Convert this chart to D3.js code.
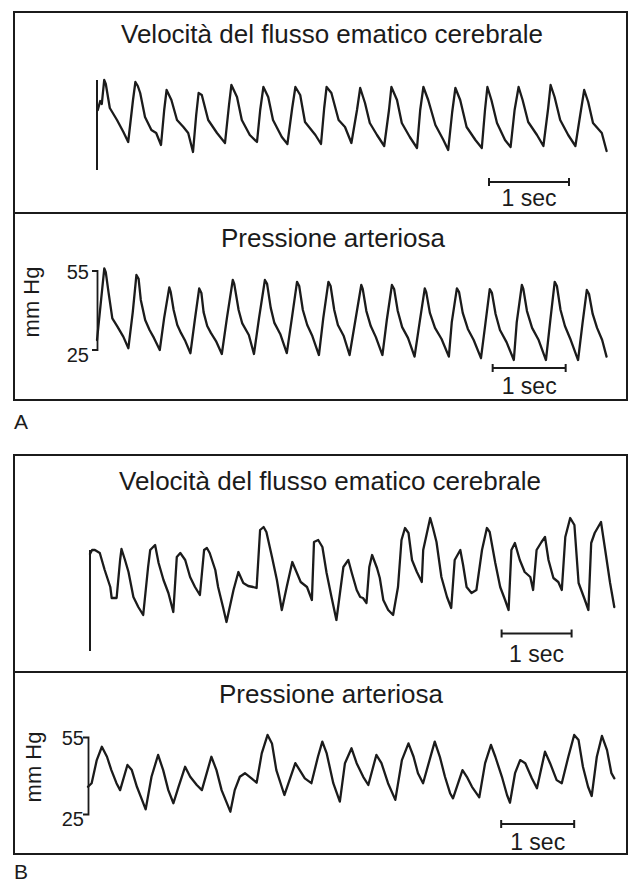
<!DOCTYPE html>
<html><head><meta charset="utf-8">
<script src="https://cdn.jsdelivr.net/npm/d3@7"></script>
<style>
body{margin:0;background:#fff}
svg{display:block}
text{font-family:"Liberation Sans",Arial,Helvetica,sans-serif;fill:#1b1b1b}
</style>
</head><body>
<svg id="c" width="634" height="884"></svg>
<script>
// ---------- DATA ----------
const titles = ["Velocità del flusso ematico cerebrale", "Pressione arteriosa"];
const panelLabels = ["A", "B"];
const unitLabel = "mm Hg";
const pressureTicks = [25, 55];
const scaleBarLabel = "1 sec";
const scaleBarStart = [4.90, 5.42, 5.88, 5.66]; // seconds, one per trace

// [time (s), velocity (arbitrary units)]
const velocityA = [
[0.01,60],[0.04,69],[0.06,66],[0.09,90],[0.11,86],[0.16,62],[0.25,50],[0.33,38],[0.39,28],
[0.45,70],[0.48,88],[0.51,84],[0.54,77],[0.60,53],[0.68,40],[0.74,37],[0.80,25],
[0.84,60],[0.87,80],[0.93,70],[1.00,50],[1.08,43],[1.14,37],[1.20,18],
[1.24,55],[1.27,77],[1.31,75],[1.39,50],[1.50,37],[1.60,27],
[1.65,65],[1.68,85],[1.75,73],[1.81,50],[1.91,35],[2.00,28],
[2.04,60],[2.08,83],[2.14,73],[2.20,50],[2.31,33],[2.38,26],
[2.44,62],[2.48,83],[2.54,75],[2.60,48],[2.73,35],[2.80,26],
[2.84,62],[2.87,83],[2.93,77],[3.02,50],[3.10,43],[3.18,27],
[3.25,60],[3.29,82],[3.35,67],[3.41,47],[3.50,35],[3.59,24],
[3.65,60],[3.68,83],[3.75,70],[3.81,47],[3.91,33],[4.00,22],
[4.04,60],[4.08,83],[4.14,70],[4.23,45],[4.33,30],[4.39,20],
[4.44,58],[4.48,82],[4.54,70],[4.62,43],[4.73,30],[4.81,22],
[4.85,60],[4.88,83],[4.93,70],[5.00,47],[5.10,30],[5.17,23],
[5.22,60],[5.27,83],[5.32,70],[5.39,48],[5.50,35],[5.58,24],
[5.64,62],[5.67,85],[5.72,73],[5.79,50],[5.89,35],[5.98,24],
[6.04,55],[6.09,80],[6.14,68],[6.20,47],[6.31,37],[6.37,19]
];

// [time (s), mm Hg]
const pressureA = [
[0.00,28.6],[0.10,55.8],[0.12,54.4],[0.16,46.3],[0.21,36.8],[0.28,33.7],[0.36,29.9],[0.43,25.5],
[0.49,39.2],[0.54,53.3],[0.57,51.8],[0.60,43.8],[0.66,36.2],[0.72,32.4],[0.78,29.4],[0.86,24.8],
[0.92,37.0],[0.99,48.6],[1.01,46.8],[1.05,40.0],[1.10,34.3],[1.15,31.3],[1.21,28.2],[1.28,23.6],
[1.34,36.2],[1.40,48.2],[1.43,46.5],[1.46,39.2],[1.51,33.9],[1.56,31.3],[1.63,28.2],[1.71,23.3],
[1.78,37.0],[1.86,51.4],[1.88,49.9],[1.94,40.0],[1.99,34.9],[2.08,30.5],[2.15,23.3],
[2.22,37.0],[2.30,51.4],[2.33,49.9],[2.38,40.8],[2.43,35.1],[2.51,30.9],[2.60,23.6],
[2.67,37.0],[2.74,50.7],[2.77,49.1],[2.82,40.0],[2.88,34.3],[2.95,30.1],[3.04,22.9],
[3.10,37.0],[3.17,50.7],[3.20,49.1],[3.25,40.0],[3.30,34.3],[3.38,30.1],[3.46,22.9],
[3.54,36.2],[3.62,49.5],[3.64,48.0],[3.69,39.6],[3.75,33.9],[3.82,29.7],[3.91,22.9],
[3.97,36.2],[4.04,49.5],[4.07,48.0],[4.12,39.6],[4.18,33.5],[4.26,29.4],[4.35,22.3],
[4.42,35.4],[4.49,48.2],[4.51,46.8],[4.56,38.9],[4.63,33.2],[4.72,29.0],[4.82,22.3],
[4.86,35.4],[4.93,48.2],[4.96,46.8],[5.01,38.9],[5.08,32.8],[5.16,28.6],[5.26,21.7],
[5.32,34.7],[5.38,47.9],[5.41,46.5],[5.46,38.5],[5.52,32.4],[5.61,27.8],[5.71,21.0],
[5.75,35.4],[5.82,49.5],[5.84,48.0],[5.89,39.6],[5.96,33.2],[6.05,28.6],[6.15,21.0],
[6.21,36.2],[6.27,50.7],[6.30,49.1],[6.35,40.0],[6.41,33.9],[6.49,28.6],[6.59,21.0],
[6.65,34.7],[6.71,47.6],[6.74,46.1],[6.79,38.5],[6.85,33.2],[6.92,28.6],[6.98,22.3]
];

const velocityB = [
[0.00,97],[0.03,101],[0.07,101],[0.14,98],[0.21,81],[0.29,64],[0.31,53],[0.38,53],
[0.43,91],[0.45,102],[0.50,91],[0.55,79],[0.62,54],[0.69,44],[0.76,36],
[0.83,84],[0.86,101],[0.93,106],[0.98,88],[1.05,71],[1.12,58],[1.19,39],
[1.24,94],[1.29,98],[1.36,91],[1.43,74],[1.50,64],[1.57,56],
[1.63,101],[1.67,103],[1.71,98],[1.79,81],[1.83,64],[1.90,44],[1.95,29],
[2.05,61],[2.12,79],[2.19,68],[2.26,65],[2.33,64],[2.38,63],
[2.43,121],[2.48,124],[2.52,119],[2.60,94],[2.67,71],[2.74,41],
[2.81,64],[2.89,89],[2.95,79],[3.01,69],[3.10,64],[3.17,51],
[3.20,109],[3.26,111],[3.32,104],[3.38,78],[3.45,54],[3.52,31],
[3.62,84],[3.69,91],[3.74,78],[3.81,61],[3.86,54],[3.90,53],[3.95,48],
[3.99,84],[4.03,96],[4.10,83],[4.14,73],[4.19,51],[4.26,41],[4.33,36],
[4.40,64],[4.45,111],[4.50,123],[4.55,118],[4.60,91],[4.67,79],[4.74,69],
[4.76,101],[4.86,133],[4.90,123],[4.95,109],[5.02,74],[5.10,54],[5.16,43],
[5.21,91],[5.29,101],[5.33,86],[5.38,64],[5.45,58],[5.52,61],
[5.60,101],[5.67,123],[5.71,119],[5.79,88],[5.86,64],[5.93,51],[5.98,41],
[6.02,101],[6.07,108],[6.14,91],[6.21,79],[6.29,74],[6.33,61],
[6.38,101],[6.45,109],[6.50,114],[6.55,91],[6.62,73],[6.69,69],[6.74,61],
[6.79,114],[6.86,133],[6.92,126],[6.98,68],[7.07,51],[7.12,41],
[7.16,108],[7.21,118],[7.30,129],[7.36,101],[7.43,68],[7.49,44]
];

const pressureB = [
[0.00,35.6],[0.05,37.0],[0.12,46.0],[0.19,51.2],[0.26,47.3],[0.32,42.1],[0.39,37.0],[0.44,34.3],
[0.54,44.1],[0.60,42.1],[0.67,35.6],[0.74,30.5],[0.79,26.8],
[0.87,39.5],[0.96,48.0],[1.03,42.1],[1.10,34.3],[1.17,29.2],
[1.24,35.6],[1.33,43.4],[1.40,39.5],[1.49,36.3],[1.56,34.3],
[1.69,47.3],[1.76,42.1],[1.83,34.3],[1.95,25.9],
[2.01,34.3],[2.08,39.5],[2.15,40.9],[2.24,38.9],[2.31,37.2],
[2.38,48.6],[2.46,55.8],[2.52,52.5],[2.58,42.1],[2.69,32.4],
[2.84,44.8],[2.90,42.1],[2.97,38.9],[3.06,37.0],
[3.15,47.3],[3.21,53.2],[3.27,48.6],[3.36,37.0],[3.45,29.8],
[3.52,44.8],[3.61,50.6],[3.68,44.8],[3.77,39.5],[3.84,36.3],
[3.95,48.0],[4.02,44.8],[4.11,37.0],[4.21,30.5],
[4.30,46.0],[4.39,52.5],[4.46,47.3],[4.52,40.9],[4.59,37.0],
[4.75,53.2],[4.82,47.3],[4.89,39.5],[4.96,33.1],[5.00,31.1],
[5.13,42.1],[5.19,39.5],[5.26,35.6],[5.36,31.5],
[5.44,44.8],[5.52,51.9],[5.58,47.3],[5.67,39.5],[5.74,32.4],[5.78,29.4],
[5.85,40.9],[5.92,46.0],[5.99,44.8],[6.08,38.9],[6.15,35.0],
[6.26,49.3],[6.33,44.8],[6.42,38.2],[6.49,37.0],
[6.58,47.3],[6.66,55.8],[6.72,53.8],[6.78,43.4],[6.85,35.6],[6.90,32.0],
[6.97,47.3],[7.04,55.4],[7.11,49.9],[7.17,40.9],[7.21,38.9]
];

// ---------- LAYOUT ----------
const W = 634, H = 884, ink = "#1b1b1b";
const svg = d3.select("#c");
svg.append("rect").attr("width", W).attr("height", H).attr("fill", "#fff");

const boxes = [
  {x: 14, y: 12, w: 613, h: 388, div: 213, label: panelLabels[0], ly: 429},
  {x: 14, y: 455, w: 613, h: 399, div: 672, label: panelLabels[1], ly: 879}
];
boxes.forEach(b => {
  svg.append("rect").attr("x", b.x).attr("y", b.y).attr("width", b.w).attr("height", b.h)
    .attr("fill", "none").attr("stroke", ink).attr("stroke-width", 2);
  svg.append("line").attr("x1", b.x).attr("x2", b.x + b.w).attr("y1", b.div).attr("y2", b.div)
    .attr("stroke", ink).attr("stroke-width", 2);
  svg.append("text").attr("x", b.x).attr("y", b.ly).style("font-size", "21px").text(b.label);
});

const panels = [
  {data: velocityA, title: titles[0], tx: 332, ty: 43, x0: 97, pxs: 80, tMax: 6.4,
   yDom: [0, 90], yRng: [170, 80], marker: true, barY: 182, barTY: 206, bar: scaleBarStart[0]},
  {data: pressureA, title: titles[1], tx: 333, ty: 247, x0: 97, pxs: 73, tMax: 7,
   yDom: [25, 55], yRng: [349.5, 270.5], axis: true, pad: 8, ux: 31, uy: 302,
   barY: 368, barTY: 394, bar: scaleBarStart[1]},
  {data: velocityB, title: titles[0], tx: 330, ty: 490, x0: 90, pxs: 70, tMax: 7.5,
   yDom: [0, 101], yRng: [651, 550], marker: true, barY: 633.5, barTY: 662, bar: scaleBarStart[2]},
  {data: pressureB, title: titles[1], tx: 331, ty: 703, x0: 88, pxs: 73, tMax: 7.25,
   yDom: [25, 55], yRng: [814, 737], axis: true, pad: 4, ux: 33, uy: 767,
   barY: 824, barTY: 850, bar: scaleBarStart[3]}
];

panels.forEach(p => {
  const x = d3.scaleLinear().domain([0, p.tMax]).range([p.x0, p.x0 + p.tMax * p.pxs]);
  const y = d3.scaleLinear().domain(p.yDom).range(p.yRng);

  svg.append("text").attr("x", p.tx).attr("y", p.ty).attr("text-anchor", "middle")
    .style("font-size", "26px").text(p.title);

  if (p.marker) {
    svg.append("line").attr("x1", x(0)).attr("x2", x(0))
      .attr("y1", y(p.yDom[0])).attr("y2", y(p.yDom[1]))
      .attr("stroke", ink).attr("stroke-width", 2);
  }
  if (p.axis) {
    const g = svg.append("g").attr("transform", `translate(${x(0)},0)`)
      .call(d3.axisLeft(y).tickValues(pressureTicks).tickSizeInner(0).tickSizeOuter(5)
        .tickPadding(p.pad).tickFormat(d3.format("d")));
    g.attr("font-size", null).attr("font-family", null);
    g.select(".domain").attr("stroke", ink).attr("stroke-width", 1.8);
    g.selectAll(".tick text").style("font-size", "20px").attr("fill", ink)
      .attr("dy", d => d === 25 ? "0.58em" : "0.38em");
    svg.append("text").attr("transform", `translate(${p.ux},${p.uy}) rotate(-90)`)
      .attr("text-anchor", "middle").attr("dy", "0.35em").style("font-size", "22px").text(unitLabel);
  }

  svg.append("path").datum(p.data)
    .attr("d", d3.line().x(d => x(d[0])).y(d => y(d[1])))
    .attr("fill", "none").attr("stroke", ink).attr("stroke-width", 2.3)
    .attr("stroke-linejoin", "round").attr("stroke-linecap", "round");

  // 1-second scale bar
  const bx0 = x(p.bar), bx1 = x(p.bar + 1);
  const sb = svg.append("g").attr("stroke", ink).attr("stroke-width", 2);
  sb.append("line").attr("x1", bx0).attr("x2", bx1).attr("y1", p.barY).attr("y2", p.barY);
  sb.append("line").attr("x1", bx0).attr("x2", bx0).attr("y1", p.barY - 4).attr("y2", p.barY + 4);
  sb.append("line").attr("x1", bx1).attr("x2", bx1).attr("y1", p.barY - 4).attr("y2", p.barY + 4);
  svg.append("text").attr("x", x(p.bar + 0.5)).attr("y", p.barTY).attr("text-anchor", "middle")
    .style("font-size", "23px").text(scaleBarLabel);
});
</script>
</body></html>
